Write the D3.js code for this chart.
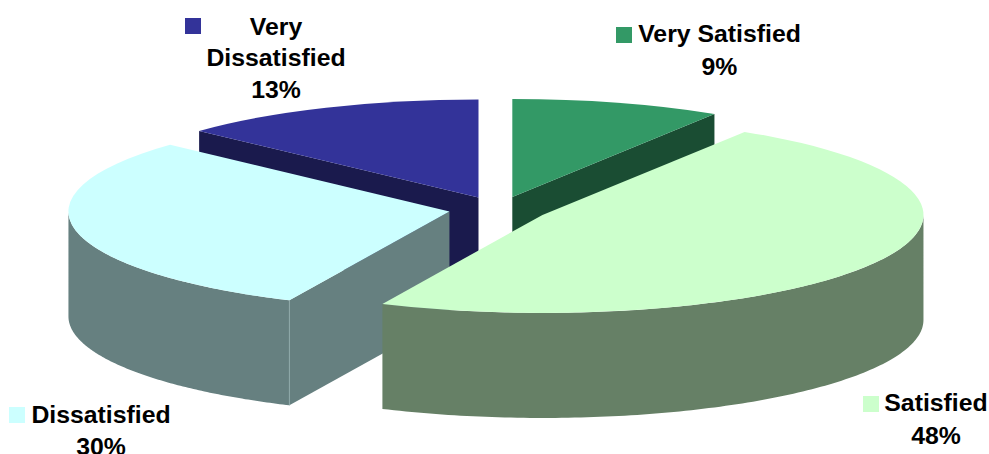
<!DOCTYPE html>
<html>
<head>
<meta charset="utf-8">
<script src="https://cdn.jsdelivr.net/npm/d3@7"></script>
<style>
html,body{margin:0;padding:0;background:#fff;overflow:hidden}
svg{display:block}
text{font-family:"Liberation Sans",Arial,sans-serif;font-weight:700;font-size:24.8px;fill:#000}
</style>
</head>
<body>
<svg id="chart" width="989" height="454"></svg>
<script>
const categories = ["Very Satisfied", "Satisfied", "Dissatisfied", "Very Dissatisfied"];
const values = [8.9, 48, 30, 13.1];
const topColors = ["#339966", "#ccffcc", "#ccffff", "#333399"];
const sideColors = ["#1a4d33", "#668066", "#668080", "#1a1a4d"];
const labelLines = [["Very Satisfied", "9%"], ["Satisfied", "48%"], ["Dissatisfied", "30%"], ["Very", "Dissatisfied", "13%"]];

const W = 989, H = 454;
const cx = 498.5, cy = 209, rx = 381, ry = 98, depth = 105, explodeX = 50, explodeY = 12.5;
const svg = d3.select("#chart");

const arcs = d3.pie().sort(null).startAngle(0).endAngle(2 * Math.PI)(values);
const arcGen = d3.arc().innerRadius(0).outerRadius(rx);

const slices = arcs.map((a, i) => {
  const mid = (a.startAngle + a.endAngle) / 2;
  return { a, i, ox: cx + explodeX * Math.sin(mid), oy: cy - explodeY * Math.cos(mid) };
});
const rim = (s, t, dz) => [s.ox + rx * Math.sin(t), s.oy - ry * Math.cos(t) + dz];
const line = d3.line();

// Back-to-front painting order
const order = [3, 0, 2, 1];
order.forEach(idx => {
  const s = slices[idx], g = svg.append("g");
  const apex = [s.ox, s.oy];
  const faces = [];
  if (Math.sin(s.a.startAngle) < -1e-6) faces.push(s.a.startAngle);
  if (Math.sin(s.a.endAngle) > 1e-6) faces.push(s.a.endAngle);
  faces.forEach(t => {
    const p = rim(s, t, 0);
    g.append("path")
      .attr("d", line([apex, p, [p[0], p[1] + depth], [apex[0], apex[1] + depth]]) + "Z")
      .attr("fill", sideColors[idx]);
  });
  // outer wall: only the part of the rim facing the viewer
  const t0 = Math.max(s.a.startAngle, Math.PI / 2), t1 = Math.min(s.a.endAngle, 3 * Math.PI / 2);
  if (t1 > t0) {
    const ts = d3.range(0, 121).map(k => t0 + (t1 - t0) * k / 120);
    const pts = ts.map(t => rim(s, t, 0)).concat(ts.slice().reverse().map(t => rim(s, t, depth)));
    g.append("path").attr("d", line(pts) + "Z").attr("fill", sideColors[idx]);
  }
  // pale corner between cut face and wall
  faces.forEach(t => {
    if (t > Math.PI / 2 && t < 3 * Math.PI / 2 && idx === 2) {
      const p = rim(s, t, 0);
      g.append("line").attr("x1", p[0]).attr("y1", p[1]).attr("x2", p[0]).attr("y2", p[1] + depth)
        .attr("stroke", "#8fa8a8").attr("stroke-width", 1);
    }
  });
  g.append("path")
    .attr("d", arcGen(s.a))
    .attr("transform", `translate(${s.ox},${s.oy}) scale(1,${ry / rx})`)
    .attr("fill", topColors[idx]);
});

// Labels with colour keys
const labelAnchors = [
  { key: [616, 27], lines: [[719.5, 42], [719.5, 75]] },
  { key: [863, 396], lines: [[936, 411], [936, 444]] },
  { key: [9, 407], lines: [[101, 423], [101, 455]] },
  { key: [185, 18], lines: [[276, 35], [276, 66], [276, 98]] }
];
labelAnchors.forEach((l, i) => {
  svg.append("rect").attr("x", l.key[0]).attr("y", l.key[1]).attr("width", 16).attr("height", 16).attr("fill", topColors[i]);
  labelLines[i].forEach((txt, j) => {
    svg.append("text").attr("x", l.lines[j][0]).attr("y", l.lines[j][1]).attr("text-anchor", "middle").text(txt);
  });
});
</script>
</body>
</html>
